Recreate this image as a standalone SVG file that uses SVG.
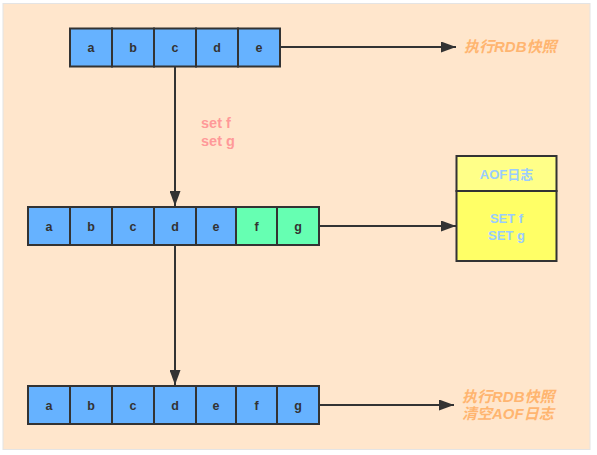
<svg xmlns="http://www.w3.org/2000/svg" width="597" height="455" viewBox="0 0 597 455">
<defs>
<style>
.cell{stroke:#333;stroke-width:2}
.blue{fill:#66B2FF}
.green{fill:#66FFB2}
.ct{font-family:"Liberation Sans","Noto Sans CJK SC",sans-serif;font-size:12.5px;font-weight:bold;fill:#333;text-anchor:middle}
.conn{stroke:#333;stroke-width:2;fill:none}
.orange{font-family:"Liberation Sans","Noto Sans CJK SC",sans-serif;font-size:15px;font-weight:bold;font-style:italic;fill:#FFB570}
.pink{font-family:"Liberation Sans","Noto Sans CJK SC",sans-serif;font-size:14.5px;font-weight:bold;fill:#FF9999}
.lb{font-family:"Liberation Sans","Noto Sans CJK SC",sans-serif;font-size:13px;font-weight:bold;fill:#99CCFF;text-anchor:middle}
</style>
<marker id="arr" markerWidth="15" markerHeight="11" refX="15" refY="5.5" orient="auto" markerUnits="userSpaceOnUse">
<path d="M0,0 L15,5.5 L0,11 Z" fill="#333"/>
</marker>
</defs>
<rect x="0" y="0" width="597" height="455" fill="#fff"/>
<rect x="3" y="3.5" width="587" height="446" fill="#FFE6CC" stroke="#e4e4e4" stroke-width="1"/>

<g id="row1">
<rect class="cell blue" x="70" y="28.5" width="42" height="38"/>
<rect class="cell blue" x="112" y="28.5" width="42" height="38"/>
<rect class="cell blue" x="154" y="28.5" width="42" height="38"/>
<rect class="cell blue" x="196" y="28.5" width="42" height="38"/>
<rect class="cell blue" x="238" y="28.5" width="42" height="38"/>
<text class="ct" x="91" y="52">a</text>
<text class="ct" x="133" y="52">b</text>
<text class="ct" x="175" y="52">c</text>
<text class="ct" x="217" y="52">d</text>
<text class="ct" x="259" y="52">e</text>
</g>

<g id="row2">
<rect class="cell blue" x="28" y="207" width="42" height="38"/>
<rect class="cell blue" x="70" y="207" width="42" height="38"/>
<rect class="cell blue" x="112" y="207" width="42" height="38"/>
<rect class="cell blue" x="154" y="207" width="42" height="38"/>
<rect class="cell blue" x="196" y="207" width="40" height="38"/>
<rect class="cell green" x="236" y="207" width="41" height="38"/>
<rect class="cell green" x="277" y="207" width="42" height="38"/>
<text class="ct" x="49" y="231">a</text>
<text class="ct" x="91" y="231">b</text>
<text class="ct" x="133" y="231">c</text>
<text class="ct" x="175" y="231">d</text>
<text class="ct" x="216" y="231">e</text>
<text class="ct" x="256.5" y="231">f</text>
<text class="ct" x="298" y="231">g</text>
</g>

<g id="row3">
<rect class="cell blue" x="28" y="386" width="42" height="38"/>
<rect class="cell blue" x="70" y="386" width="42" height="38"/>
<rect class="cell blue" x="112" y="386" width="42" height="38"/>
<rect class="cell blue" x="154" y="386" width="42" height="38"/>
<rect class="cell blue" x="196" y="386" width="40" height="38"/>
<rect class="cell blue" x="236" y="386" width="41" height="38"/>
<rect class="cell blue" x="277" y="386" width="42" height="38"/>
<text class="ct" x="49" y="410">a</text>
<text class="ct" x="91" y="410">b</text>
<text class="ct" x="133" y="410">c</text>
<text class="ct" x="175" y="410">d</text>
<text class="ct" x="216" y="410">e</text>
<text class="ct" x="256.5" y="410">f</text>
<text class="ct" x="298" y="410">g</text>
</g>

<g id="aof">
<rect x="456.5" y="156" width="100" height="35" fill="#FFFF88" stroke="#333" stroke-width="2"/>
<rect x="456.5" y="191" width="100" height="70" fill="#FFFF66" stroke="#333" stroke-width="2"/>
<text class="lb" x="506.5" y="179">AOF日志</text>
<text class="lb" x="506.5" y="223">SET f</text>
<text class="lb" x="506.5" y="240">SET g</text>
</g>

<g id="connectors">
<line class="conn" x1="280" y1="47" x2="456" y2="47" marker-end="url(#arr)"/>
<line class="conn" x1="175" y1="67" x2="175" y2="206" marker-end="url(#arr)"/>
<line class="conn" x1="320" y1="226" x2="456" y2="226" marker-end="url(#arr)"/>
<line class="conn" x1="175" y1="245" x2="175" y2="385" marker-end="url(#arr)"/>
<line class="conn" x1="320" y1="405" x2="454" y2="405" marker-end="url(#arr)"/>
</g>

<g id="labels">
<text class="orange" x="464" y="52">执行RDB快照</text>
<text class="pink" x="201" y="128">set f</text>
<text class="pink" x="201" y="146">set g</text>
<text class="orange" x="462" y="402">执行RDB快照</text>
<text class="orange" x="462" y="419">清空AOF日志</text>
</g>
</svg>
